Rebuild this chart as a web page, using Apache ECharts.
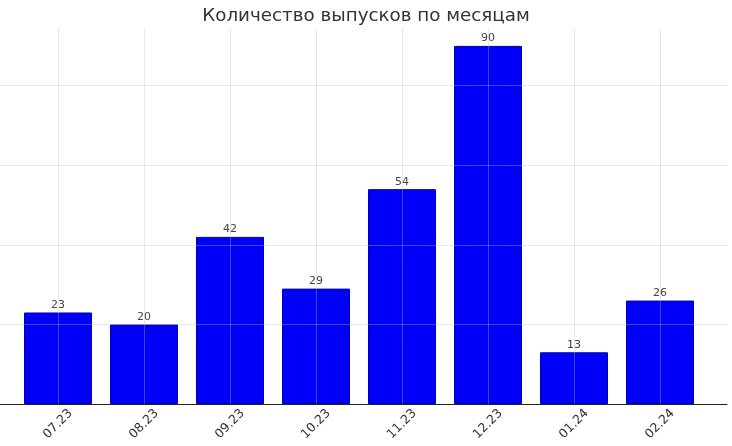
<!DOCTYPE html>
<html><head><meta charset="utf-8">
<script src="https://cdn.jsdelivr.net/npm/echarts@6/dist/echarts.min.js"></script>
<style>html,body{margin:0;padding:0;background:#fff}#c{width:732px;height:446px}</style>
</head><body><div id="c"></div>
<script>
const title = 'Количество выпусков по месяцам';
const categories = ['07.23','08.23','09.23','10.23','11.23','12.23','01.24','02.24'];
const values = [23, 20, 42, 29, 54, 90, 13, 26];
const yTicks = [0, 20, 40, 60, 80];

const idx = categories.map((c, i) => i);
const chart = echarts.init(document.getElementById('c'));
const gridColor = 'rgba(190,190,190,0.35)';
chart.setOption({
  animation: false,
  backgroundColor: '#fff',
  title: {text: title, left: 'center', top: 2,
    textStyle: {fontFamily: 'DejaVu Sans', fontSize: 18.3, fontWeight: 'normal', color: '#333'}},
  grid: {left: 0, right: 5, top: 28, bottom: 42},
  xAxis: {
    type: 'value', min: -0.6744, max: 7.779, z: 5,
    axisLine: {show: true, onZero: false, lineStyle: {color: '#222', width: 1}},
    axisTick: {show: false, customValues: idx},
    axisLabel: {customValues: idx, rotate: 45, align: 'center', verticalAlign: 'middle', margin: 20,
      fontFamily: 'DejaVu Sans', fontSize: 12.5, color: '#333',
      formatter: v => categories[Math.round(v)]},
    splitLine: {show: true, showMinLine: true, showMaxLine: true, lineStyle: {color: gridColor, width: 1}}
  },
  yAxis: {
    type: 'value', min: 0, max: 94.5, z: 5,
    axisLine: {show: false}, axisTick: {show: false, customValues: yTicks},
    axisLabel: {show: false, customValues: yTicks},
    splitLine: {show: true, showMinLine: true, showMaxLine: true, lineStyle: {color: gridColor, width: 1}}
  },
  series: [{
    type: 'bar', barWidth: 68, z: 2,
    data: values.map((v, i) => [i, v]),
    itemStyle: {color: '#0000f8', borderColor: '#0000b0', borderWidth: 1},
    label: {show: true, position: 'top', distance: 2, fontFamily: 'DejaVu Sans', fontSize: 11, color: '#444',
      formatter: p => p.value[1]}
  }]
});
</script></body></html>
